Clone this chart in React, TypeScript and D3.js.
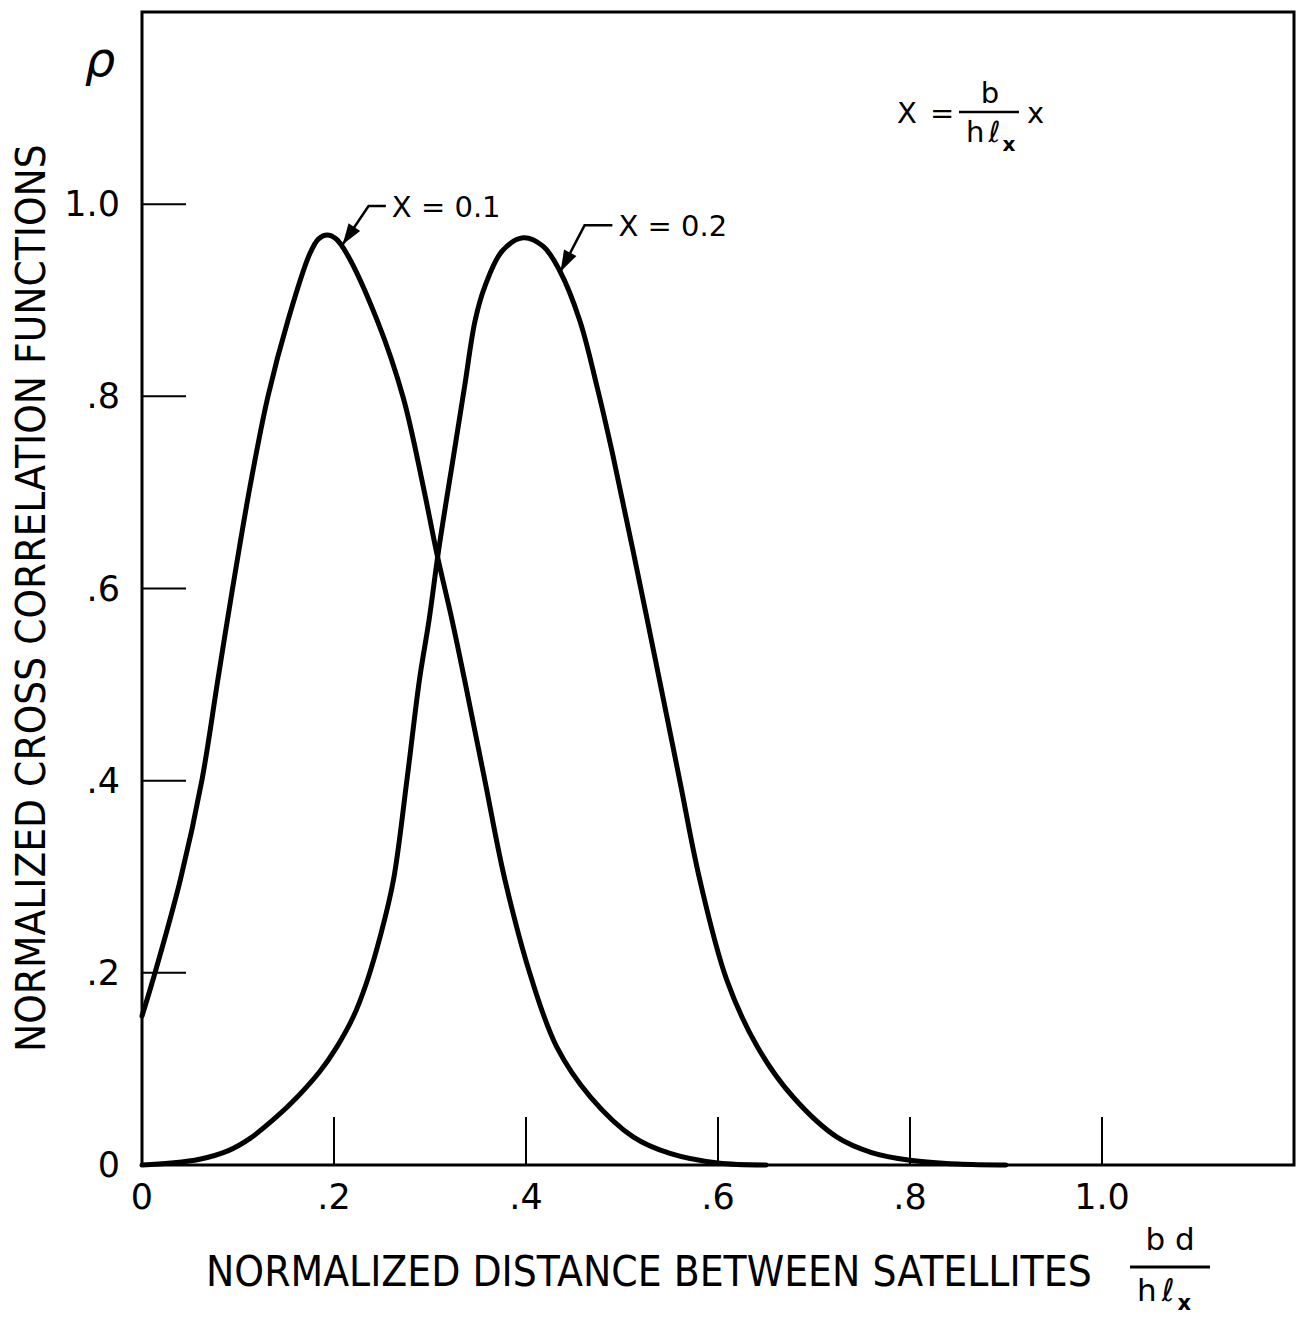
import React, { useEffect, useRef } from 'react';
import * as d3 from 'd3';

// normalized distance between satellites (bd / h lx)
const dist01 = [0, 0.0115, 0.04, 0.0625, 0.079, 0.094, 0.1125, 0.131, 0.152, 0.175, 0.184, 0.193, 0.202, 0.213, 0.245, 0.272, 0.293, 0.307, 0.323, 0.336, 0.357, 0.378, 0.406, 0.432, 0.467, 0.512, 0.55, 0.6, 0.65];
const rho01 = [0.155, 0.193, 0.297, 0.401, 0.505, 0.598, 0.706, 0.799, 0.879, 0.949, 0.964, 0.968, 0.964, 0.949, 0.879, 0.799, 0.706, 0.637, 0.567, 0.505, 0.401, 0.297, 0.193, 0.123, 0.071, 0.029, 0.012, 0.002, 0];

const dist02 = [0, 0.03, 0.06, 0.09, 0.113, 0.14, 0.161, 0.185, 0.203, 0.22, 0.234, 0.249, 0.262, 0.276, 0.289, 0.299, 0.309, 0.325, 0.336, 0.347, 0.357, 0.375, 0.397, 0.418, 0.435, 0.456, 0.474, 0.49, 0.512, 0.539, 0.56, 0.581, 0.609, 0.641, 0.678, 0.724, 0.76, 0.8, 0.85, 0.9];
const rho02 = [0, 0.002, 0.006, 0.015, 0.028, 0.05, 0.07, 0.097, 0.123, 0.154, 0.19, 0.241, 0.297, 0.401, 0.505, 0.567, 0.64, 0.741, 0.81, 0.879, 0.914, 0.951, 0.965, 0.956, 0.931, 0.879, 0.81, 0.741, 0.637, 0.505, 0.401, 0.297, 0.193, 0.123, 0.071, 0.029, 0.013, 0.005, 0.001, 0];

const xTicks = [0.2, 0.4, 0.6, 0.8, 1.0];
const xTickLabels = ['0', '.2', '.4', '.6', '.8', '1.0'];
const yTicks = [0.2, 0.4, 0.6, 0.8, 1.0];
const yTickLabels = ['0', '.2', '.4', '.6', '.8', '1.0'];
const curveLabels = ['X = 0.1', 'X = 0.2'];

const FONT = "'DejaVu Sans', sans-serif";

export default function App() {
  const ref = useRef<SVGSVGElement | null>(null);

  useEffect(() => {
    const svg = d3.select(ref.current);
    svg.selectAll('*').remove();

    // plot frame in pixels
    const left = 142, right = 1294, top = 12, bottom = 1165;
    const x = d3.scaleLinear().domain([0, 1.2]).range([left, right]);
    const y = d3.scaleLinear().domain([0, 1.2]).range([bottom, top]);

    svg.append('rect').attr('width', 1302).attr('height', 1318).attr('fill', '#fff');

    // frame
    svg.append('rect')
      .attr('x', left).attr('y', top)
      .attr('width', right - left).attr('height', bottom - top)
      .attr('fill', 'none').attr('stroke', '#000').attr('stroke-width', 3);

    // ticks (inside the frame)
    svg.append('g').selectAll('line').data(yTicks).enter().append('line')
      .attr('x1', left).attr('x2', left + 44)
      .attr('y1', d => y(d)).attr('y2', d => y(d))
      .attr('stroke', '#000').attr('stroke-width', 2);
    svg.append('g').selectAll('line').data(xTicks).enter().append('line')
      .attr('x1', d => x(d)).attr('x2', d => x(d))
      .attr('y1', bottom).attr('y2', bottom - 48)
      .attr('stroke', '#000').attr('stroke-width', 2);

    // tick labels
    svg.append('g').selectAll('text').data(yTickLabels).enter().append('text')
      .text(d => d)
      .attr('x', 120).attr('y', (d, i) => y(i * 0.2) + 12)
      .attr('text-anchor', 'end')
      .attr('font-family', FONT).attr('font-size', 35);
    svg.append('g').selectAll('text').data(xTickLabels).enter().append('text')
      .text(d => d)
      .attr('x', (d, i) => x(i * 0.2)).attr('y', 1209)
      .attr('text-anchor', 'middle')
      .attr('font-family', FONT).attr('font-size', 35);

    // curves
    const line = d3.line<number[]>()
      .x(d => x(d[0])).y(d => y(Math.max(0, d[1])))
      .curve(d3.curveCatmullRom.alpha(0.5));
    const series = [
      dist01.map((d, i) => [d, rho01[i]]),
      dist02.map((d, i) => [d, rho02[i]]),
    ];
    svg.append('g').selectAll('path').data(series).enter().append('path')
      .attr('d', d => line(d))
      .attr('fill', 'none').attr('stroke', '#000')
      .attr('stroke-width', 5).attr('stroke-linejoin', 'round').attr('stroke-linecap', 'round');

    // curve labels with leader arrows: tip, elbow, end of leader (data coords)
    const leaders = [
      { tip: [0.209, 0.958], elbow: [0.236, 0.998], end: [0.254, 0.998] },
      { tip: [0.436, 0.93], elbow: [0.461, 0.978], end: [0.49, 0.978] },
    ];
    leaders.forEach((l, i) => {
      const tx = x(l.tip[0]), ty = y(l.tip[1]);
      const ex = x(l.elbow[0]), ey = y(l.elbow[1]);
      const nx = x(l.end[0]), ny = y(l.end[1]);
      svg.append('path')
        .attr('d', `M${nx},${ny}L${ex},${ey}L${tx},${ty}`)
        .attr('fill', 'none').attr('stroke', '#000').attr('stroke-width', 2.5);
      // arrow head
      const ang = Math.atan2(ty - ey, tx - ex);
      const len = 21, half = 7;
      const bx = tx - len * Math.cos(ang), by = ty - len * Math.sin(ang);
      const px = -Math.sin(ang) * half, py = Math.cos(ang) * half;
      svg.append('path')
        .attr('d', `M${tx},${ty}L${bx + px},${by + py}L${bx - px},${by - py}Z`)
        .attr('fill', '#000');
      svg.append('text')
        .text(curveLabels[i])
        .attr('x', nx + 6).attr('y', ny + 11)
        .attr('font-family', FONT).attr('font-size', 29);
    });

    // rho label
    svg.append('text').text('ρ')
      .attr('x', 100).attr('y', 76).attr('text-anchor', 'middle')
      .attr('font-family', FONT).attr('font-size', 48).attr('font-style', 'italic');

    // formula, top right: X = b / (h l_x) x
    const f = svg.append('g').attr('font-family', FONT).attr('font-size', 29);
    f.append('text').text('X =').attr('x', 897).attr('y', 123).attr('word-spacing', 4);
    f.append('line').attr('x1', 959).attr('x2', 1019).attr('y1', 112).attr('y2', 112)
      .attr('stroke', '#000').attr('stroke-width', 2.5);
    f.append('text').text('b').attr('x', 990).attr('y', 103).attr('text-anchor', 'middle');
    const den = f.append('text').attr('x', 966).attr('y', 142);
    den.append('tspan').text('h');
    den.append('tspan').text('ℓ').attr('dx', 4).attr('font-style', 'italic');
    den.append('tspan').text('x').attr('dx', 2).attr('dy', 9).attr('font-size', 20).attr('font-weight', 'bold');
    f.append('text').text('x').attr('x', 1027).attr('y', 123);

    // axis titles: narrow lettering, squeezed horizontally to the measured length
    const squeezed = (label: string, size: number, length: number, tx: number, ty: number, rot: number) => {
      const t = svg.append('text').text(label)
        .attr('font-family', FONT).attr('font-size', size);
      const w = (t.node() as SVGTextElement).getComputedTextLength() || length;
      t.attr('transform', `translate(${tx},${ty}) rotate(${rot}) scale(${length / w},1)`);
    };
    squeezed('NORMALIZED CROSS CORRELATION FUNCTIONS', 41, 908, 45, 1052, -90);
    squeezed('NORMALIZED DISTANCE BETWEEN SATELLITES', 42, 886, 206, 1286, 0);

    // fraction next to x title
    const g = svg.append('g').attr('font-family', FONT).attr('font-size', 31);
    g.append('text').text('b d').attr('x', 1170).attr('y', 1250).attr('text-anchor', 'middle');
    g.append('line').attr('x1', 1130).attr('x2', 1210).attr('y1', 1267).attr('y2', 1267)
      .attr('stroke', '#000').attr('stroke-width', 3);
    const den2 = g.append('text').attr('x', 1137).attr('y', 1301);
    den2.append('tspan').text('h');
    den2.append('tspan').text('ℓ').attr('dx', 5).attr('font-style', 'italic');
    den2.append('tspan').text('x').attr('dx', 3).attr('dy', 9).attr('font-size', 21).attr('font-weight', 'bold');
  }, []);

  return (
    <svg ref={ref} width={1302} height={1318}
      style={{ position: 'absolute', left: 0, top: 0, display: 'block' }} />
  );
}
